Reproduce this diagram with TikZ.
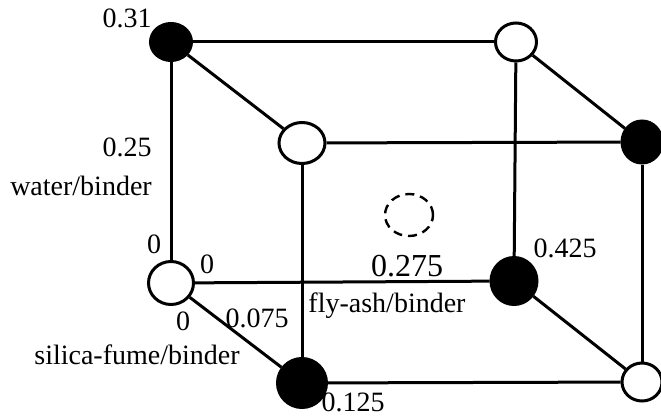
\documentclass[tikz,border=0pt]{standalone}
\usepackage{fontspec}
\setmainfont{Liberation Serif}
\usetikzlibrary{shapes.geometric}
\begin{document}
\begin{tikzpicture}[x=1pt,y=-1pt,
  vtx/.style={ellipse,draw,line width=3pt,inner sep=0pt},
  wv/.style={vtx,fill=white},
  bv/.style={vtx,fill=black},
  edge/.style={line width=3pt},
  lbl/.style={inner sep=0pt,font=\fontsize{28}{30}\selectfont}]
\useasboundingbox (0,0) rectangle (661,417);
% vertices (named, positions of the cube corners)
\node[bv,minimum width=41pt,minimum height=37pt] (tlb) at (171,42) {};
\node[wv,minimum width=41pt,minimum height=38pt] (trb) at (516,42) {};
\node[wv,minimum width=46pt,minimum height=41pt] (ftl) at (302,143) {};
\node[bv,minimum width=40pt,minimum height=42pt] (ftr) at (642,142) {};
\node[wv,minimum width=45pt,minimum height=43pt] (blb) at (171,283) {};
\node[bv,minimum width=46pt,minimum height=47pt] (brb) at (514,281) {};
\node[bv,minimum width=49pt,minimum height=49pt] (fbl) at (302,383) {};
\node[wv,minimum width=40pt,minimum height=38pt] (fbr) at (642,382) {};
% edges
\draw[edge] (tlb) -- (trb);
\draw[edge] (tlb) -- (blb);
\draw[edge] (trb) -- (brb);
\draw[edge] (blb) -- (brb);
\draw[edge] (ftl) -- (ftr);
\draw[edge] (ftl) -- (fbl);
\draw[edge] (ftr) -- (fbr);
\draw[edge] (fbl) -- (fbr);
\draw[edge] (tlb) -- (ftl);
\draw[edge] (trb) -- (ftr);
\draw[edge] (blb) -- (fbl);
\draw[edge] (brb) -- (fbr);
% dashed centre point
\node[ellipse,draw,line width=2.4pt,minimum width=48pt,minimum height=42pt,inner sep=0pt,dash pattern=on 9pt off 6pt] (ctr) at (409,215) {};
% labels
\node[lbl] (l031) at (127,18) {0.31};
\node[lbl] (l025) at (127,147) {0.25};
\node[lbl] (lwb) at (81,186) {water/binder};
\node[lbl] (l0a) at (154,244) {0};
\node[lbl] (l0b) at (207,264) {0};
\node[lbl] (l0c) at (183,321) {0};
\node[lbl] (l075) at (257,318) {0.075};
\node[lbl] (lsf) at (137,355) {silica-fume/binder};
\node[lbl] (lfa) at (387,306) {fly-ash/binder};
\node[lbl,font=\fontsize{32}{34}\selectfont] (l275) at (407,266) {0.275};
\node[lbl] (l425) at (565,248) {0.425};
\node[lbl] (l125) at (353,402) {0.125};
\end{tikzpicture}
\end{document}
